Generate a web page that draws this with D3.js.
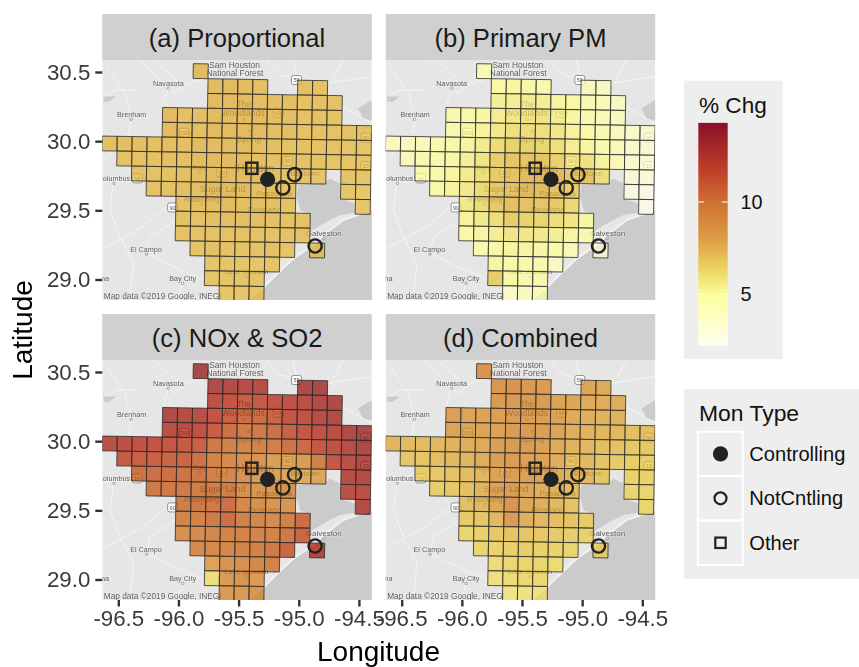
<!DOCTYPE html>
<html><head><meta charset="utf-8">
<script src="https://cdn.jsdelivr.net/npm/d3@7"></script>
<style>html,body{margin:0;padding:0;background:#fff}svg{display:block;font-family:"Liberation Sans",Arial,sans-serif;filter:blur(.3px)}</style>
</head><body><svg id="c" width="859" height="667"></svg>
<script>
const panelTitles=["(a) Proportional","(b) Primary PM","(c) NOx & SO2","(d) Combined"];
const lonTicks=[-96.5,-96,-95.5,-95,-94.5];
const latTicks=[30.5,30,29.5,29];
const legendTicks=[5,10];
const monTypes=["Controlling","NotCntling","Other"];
// [grid row, first grid column, number of cells]
const gridRuns=[[0,6,1],[1,7,4],[1,13,2],[2,7,9],[3,4,12],[4,4,14],[5,0,18],[6,1,17],[7,2,13],[7,16,2],[8,3,10],[8,16,2],[9,5,8],[9,17,1],[10,5,9],[11,5,9],[12,6,7],[12,14,1],[13,7,5],[14,7,4],[15,8,3]];
// one list per run above
const valuesA=[[7.2],[7.2,7.2,7.2,7.1],[7.1,7.0],[7.2,7.2,7.2,7.1,7.1,7.1,7.0,7.0,7.0],[7.2,7.1,7.1,7.2,7.2,7.2,7.2,7.1,7.1,7.0,7.0,7.0],[7.2,7.1,7.1,7.2,7.2,7.2,7.2,7.1,7.1,7.0,7.0,7.0,7.0,7.0],[7.1,7.1,7.1,7.1,7.1,7.1,7.2,7.2,7.2,7.2,7.1,7.1,7.0,7.0,7.0,7.0,6.9,6.9],[7.0,7.0,7.0,7.1,7.1,7.2,7.2,7.2,7.2,7.1,7.0,7.0,7.0,7.0,6.9,6.9,6.9],[7.0,7.0,7.0,7.1,7.1,7.2,7.2,7.2,7.2,7.1,7.0,7.0,6.9],[6.9,6.9],[7.0,7.0,7.1,7.1,7.2,7.2,7.2,7.1,7.1,7.0],[6.8,6.8],[7.0,7.1,7.1,7.2,7.1,7.1,7.1,7.0],[6.8],[7.0,7.0,7.1,7.1,7.1,7.1,7.0,7.0,7.0],[7.0,7.0,7.0,7.0,7.0,7.0,7.0,7.0,7.0],[6.9,7.0,7.0,7.0,7.0,7.0,6.9],[6.9],[6.9,6.9,6.9,6.9,6.9],[6.9,6.9,6.9,6.9],[6.9,6.9,6.9]];
const valuesB=[[4.3],[4.8,5.0,4.8,4.6],[4.0,3.8],[5.2,5.3,5.4,5.3,5.0,4.7,4.4,4.1,3.8],[4.6,4.7,4.9,5.3,5.6,5.8,5.7,5.4,5.0,4.6,4.2,3.9],[4.7,4.9,5.1,5.5,5.9,6.0,5.9,5.6,5.1,4.8,4.4,4.1,3.6,3.3],[3.9,4.0,4.2,4.4,4.7,5.0,5.4,6.1,6.4,6.5,6.3,5.9,5.3,5.0,4.6,4.1,3.5,3.2],[4.1,4.4,4.6,4.9,5.2,5.7,6.6,6.9,6.9,6.9,6.5,5.7,5.8,5.1,4.2,3.4,3.1],[4.5,4.7,5.0,5.4,5.9,6.7,7.0,7.2,7.4,7.2,6.9,7.0,6.0],[3.0,2.9],[4.8,5.1,5.5,6.1,6.8,7.1,7.3,7.2,7.0,6.6],[2.7,2.6],[5.5,6.1,6.8,7.1,7.0,6.9,6.7,6.2],[2.5],[5.1,5.5,6.0,6.6,6.4,6.3,6.0,5.7,5.0],[4.7,5.0,5.3,5.6,5.6,5.5,5.3,5.0,4.5],[4.6,4.8,5.0,5.0,4.9,4.7,4.2],[3.0],[5.0,4.7,4.7,4.5,3.7],[6.6,4.9,4.6,4.7],[3.5,3.8,4.3]];
const valuesC=[[13.3],[12.8,12.6,12.4,12.4],[13.0,13.2],[12.0,11.6,11.2,11.3,11.6,11.9,12.2,12.6,13.0],[12.8,12.5,12.3,11.6,11.0,10.6,10.6,10.9,11.5,11.9,12.4,12.8],[12.2,12.2,11.8,11.2,10.4,9.9,10.0,10.4,11.0,11.4,11.8,12.2,12.9,13.2],[12.3,12.0,11.8,11.6,11.5,11.3,11.0,10.0,9.7,9.4,9.5,9.8,10.3,10.7,11.4,11.8,12.4,12.9],[11.3,11.1,11.1,10.9,10.8,10.3,9.6,9.2,8.9,8.7,8.2,8.0,8.3,9.8,11.4,12.2,12.8],[10.3,10.4,10.4,10.3,10.2,9.8,9.3,8.9,8.4,8.2,7.9,7.7,7.9],[12.4,12.6],[10.2,10.1,10.0,9.9,9.9,9.9,9.0,8.7,8.6,8.9],[12.0,12.3],[9.9,10.0,10.1,10.5,9.3,8.9,8.7,8.7],[12.6],[9.5,9.7,10.0,10.6,9.8,9.4,9.2,9.7,10.6],[9.0,9.2,9.4,9.6,9.6,9.5,9.6,10.1,10.8],[9.2,9.3,9.4,9.5,9.7,10.0,10.8],[12.0],[8.0,8.8,9.0,9.3,9.7],[6.0,8.4,8.7,8.3],[8.4,8.5,8.6]];
const valuesD=[[8.7],[8.6,8.8,8.5,8.3],[7.9,7.8],[8.4,8.5,8.4,8.3,8.0,7.9,7.8,7.7,7.7],[8.2,8.0,8.0,8.2,8.3,8.3,8.2,8.0,7.8,7.6,7.5,7.5],[8.0,7.9,8.0,8.1,8.3,8.3,8.2,8.0,7.7,7.5,7.4,7.3,7.1,7.1],[7.4,7.2,7.2,7.3,7.5,7.7,7.8,8.2,8.3,8.3,8.1,7.8,7.5,7.3,7.1,7.0,6.8,6.8],[6.8,6.9,7.1,7.3,7.4,7.7,8.2,8.3,8.1,8.0,7.6,7.1,7.3,7.0,6.7,6.6,6.6],[6.6,6.8,7.0,7.2,7.4,8.0,8.2,8.2,8.0,7.8,7.5,7.3,6.9],[6.5,6.5],[6.6,6.8,7.1,7.4,8.1,8.3,7.9,7.7,7.5,7.2],[6.3,6.3],[7.1,7.3,7.9,8.7,7.9,7.6,7.3,7.0],[6.3],[6.7,6.9,7.3,8.4,7.6,7.3,7.1,6.9,6.7],[6.3,6.5,6.8,6.9,6.9,6.8,6.7,6.6,6.5],[6.3,6.4,6.5,6.6,6.5,6.4,6.3],[6.4],[6.1,6.2,6.3,6.3,6.1],[5.9,6.1,6.2,6.2],[5.7,5.8,5.9]];
const panelValues=[valuesA,valuesB,valuesC,valuesD];
// monitors [lon, lat, type]
const monitors=[[-95.259,29.724,0],[-95.132,29.662,1],[-95.035,29.758,1],[-94.864,29.242,1],[-95.39,29.804,2]];
// colour ramp
const rampVals=[2.2,4.85,6.3,8.1,9.9,11.7,14.3];
const rampCols=["#fffff0","#ffff8c","#ebcf3c","#d78419","#c75205","#b51300","#73000a"];
const legendCols=["#fffff0","#fcffa0","#ecd660","#dc9a44","#cf7234","#c13f28","#8a1028"];
// basemap in lon/lat
const waterAreas=[
[[-94.3,29.51],[-94.396,29.502],[-94.631,29.43],[-94.783,29.329],[-94.88,29.249],[-95.032,29.16],[-95.171,29.049],[-95.295,28.943],[-95.434,28.846],[-94.3,28.846]],
[[-95.005,29.683],[-94.783,29.7],[-94.742,29.731],[-94.659,29.695],[-94.659,29.586],[-94.534,29.55],[-94.534,29.483],[-94.659,29.466],[-94.769,29.418],[-94.908,29.345],[-94.913,29.478],[-94.985,29.497],[-95.019,29.598]],
[[-94.396,30.297],[-94.506,30.237],[-94.465,30.165],[-94.368,30.141]],
[[-96.624,30.322],[-96.519,30.322],[-96.574,30.285],[-96.619,30.285]]];
const shoreStrip=[[-94.396,29.502],[-94.631,29.43],[-94.783,29.329],[-94.88,29.249],[-95.032,29.16],[-95.171,29.049],[-95.295,28.943],[-95.434,28.846]];
const roads=[
[[-96.652,29.707],[-96.389,29.707],[-96.264,29.731]],
[[-96.32,30.587],[-96.154,30.442],[-96.084,30.382],[-96.029,30.346],[-95.932,30.418],[-95.766,30.454]],
[[-96.597,30.538],[-96.444,30.346],[-96.389,30.153],[-96.417,30.044]],
[[-96.209,30.587],[-95.988,30.418]],
[[-96.084,30.382],[-96.126,30.261]],
[[-96.652,29.84],[-96.514,29.96]],
[[-96.541,29.695],[-96.569,29.502],[-96.486,29.309],[-96.375,29.116],[-96.403,28.851]],
[[-96.098,29.526],[-96.292,29.382],[-96.652,29.213]],
[[-96.264,29.189],[-96.237,29.309],[-96.015,29.43]],
[[-95.96,28.972],[-96.015,28.851]],
[[-96.264,29.189],[-96.098,29.116],[-95.78,28.996]],
[[-95.046,30.587],[-95.019,30.454]],
[[-94.769,30.418],[-94.396,30.466]],
[[-94.631,30.249],[-94.396,30.129]],
[[-94.631,30.587],[-94.714,30.454]],
[[-95.268,30.587],[-95.157,30.478],[-95.019,30.454]],
[[-96.652,30.297],[-96.514,30.37],[-96.32,30.37]]];
const placeLabels=[["Sam Houston",-95.534,30.551,8.4],["National Forest",-95.531,30.49,8.4],["Navasota",-96.084,30.418,7.3],["Brenham",-96.389,30.196,7.2],["Columbus",-96.403,29.731,7.2,"end"],["El Campo",-96.27,29.22,7.2],["Bay City",-95.965,29.008,7.2],["The",-95.456,30.266,8.4],["Woodlands",-95.462,30.201,8.7],["Spring",-95.414,30.015,8.4],["Katy",-95.821,29.811,7.2],["Houston",-95.359,29.806,10],["Sugar Land",-95.633,29.652,8.8],["Rosenberg",-95.808,29.582,7.2],["Pasadena",-95.204,29.627,8],["Baytown",-94.949,29.767,7.5],["Pearland",-95.282,29.502,8.4],["Galveston",-94.792,29.336,8],["Lake Jackson",-95.434,29.059,7.2],["Edna",-96.577,29.006,7.2,"end"]];
const placeDots=[[-96.084,30.382],[-96.394,30.158],[-96.536,29.695],[-96.264,29.184],[-95.965,28.972],[-95.456,30.158],[-95.414,30.073],[-95.821,29.774],[-95.808,29.545],[-95.282,29.55],[-94.792,29.297],[-95.434,29.02]];
const shields=[["290",-95.952,30.061],["90",-96.048,29.521],["59",-95.019,30.442],["90",-95.093,29.856],["69",-95.171,30.206],["10",-94.443,29.82],["90",-94.443,30.025],["10",-96.342,29.731],["10",-95.641,29.774]];

const svg=d3.select("#c");
const panelW=269.5,panelH=240;
const panelX=[102.3,385.7,102.3,385.7],panelY=[60,60,360,360];
const lon=d3.scaleLinear().domain([-96.5,-94.5]).range([16,256.6]);
const lat=d3.scaleLinear().domain([30.5,29]).range([12,219.5]);
const color=d3.scaleLinear().domain(rampVals).range(rampCols).clamp(true);
// tilted model grid (projected cells shown in lon/lat)
const gLon=d3.scaleLinear().domain([0,1]).range([-96.633,-96.633+0.1243]);
const gLat=d3.scaleLinear().domain([5,6]).range([30.037,30.037-0.1068]);
const cornerLon=(c,r)=>gLon(c)-(r-5)*0.0022;
const cornerLat=(c,r)=>gLat(r)-c*0.0018;
const cellPath=(c,r)=>{
  const p=[[c,r],[c+1,r],[c+1,r+1],[c,r+1]].map(([i,j])=>[lon(cornerLon(i,j)),lat(cornerLat(i,j))]);
  return d3.line()(p)+"Z";
};
const cells=(vals)=>gridRuns.flatMap((run,k)=>vals[k].map((v,i)=>({r:run[0],c:run[1]+i,v})));
const geoLine=d3.line().x(d=>lon(d[0])).y(d=>lat(d[1]));
const INK="#222";
const tickFmt=d=>d.toFixed(1);

const defs=svg.append("defs");
defs.append("clipPath").attr("id","pc").append("rect").attr("width",panelW).attr("height",panelH);

panelTitles.forEach((title,pi)=>{
  const g=svg.append("g").attr("transform",`translate(${panelX[pi]},${panelY[pi]})`);
  g.append("rect").attr("y",-46).attr("width",panelW).attr("height",46).attr("fill","#d0d0d0");
  g.append("text").attr("x",panelW/2).attr("y",-13).attr("text-anchor","middle").attr("font-size",25.6).attr("fill","#1a1a1a").text(title);
  const m=g.append("g").attr("clip-path","url(#pc)");
  m.append("rect").attr("width",panelW).attr("height",panelH).attr("fill","#e6e6e6");
  m.selectAll(".road").data(roads).join("path").attr("d",geoLine).attr("fill","none").attr("stroke","#f4f4f4").attr("stroke-width",1);
  m.selectAll(".water").data(waterAreas).join("path").attr("d",d=>geoLine(d)+"Z").attr("fill","#cbcbcb");
  m.append("path").attr("d",geoLine(shoreStrip)).attr("fill","none").attr("stroke","#f2f2f2").attr("stroke-width",2);
  m.selectAll(".dot").data(placeDots).join("circle").attr("cx",d=>lon(d[0])).attr("cy",d=>lat(d[1])).attr("r",1.2).attr("fill","#fff").attr("stroke","#666").attr("stroke-width",.6);
  const sh=m.selectAll(".sh").data(shields).join("g").attr("transform",d=>`translate(${lon(d[1])},${lat(d[2])})`);
  sh.append("rect").attr("x",-5).attr("y",-4.5).attr("width",10).attr("height",9).attr("rx",2).attr("fill","#fff").attr("stroke","#777").attr("stroke-width",.8);
  sh.append("text").attr("y",2.2).attr("text-anchor","middle").attr("font-size",5.5).attr("fill","#555").text(d=>d[0]);
  m.selectAll(".pl").data(placeLabels).join("text").attr("x",d=>lon(d[1])).attr("y",d=>lat(d[2])+d[3]*0.36)
    .attr("text-anchor",d=>d[4]||"middle").attr("font-size",d=>d[3]).attr("fill","#5c5c5c")
    .attr("stroke","#f2f2f2").attr("stroke-width",1.2).attr("paint-order","stroke").attr("stroke-opacity",.6).text(d=>d[0]);
  m.append("text").attr("x",1.5).attr("y",238.5).attr("font-size",8.3).attr("fill","#5c5c5c").attr("stroke","#f2f2f2").attr("stroke-width",1.2).attr("paint-order","stroke").attr("stroke-opacity",.6).text("Map data ©2019 Google, INEGI");
  m.selectAll(".cell").data(cells(panelValues[pi])).join("path").attr("d",d=>cellPath(d.c,d.r))
    .attr("fill",d=>color(d.v)).attr("fill-opacity",.7).attr("stroke","#2a2a2a").attr("stroke-opacity",.8).attr("stroke-width",1);
  // monitors
  const mon=m.selectAll(".mon").data(monitors).join("g").attr("transform",d=>`translate(${lon(d[0])},${lat(d[1])})`);
  mon.filter(d=>d[2]===0).append("circle").attr("r",7.6).attr("fill",INK);
  mon.filter(d=>d[2]===1).append("circle").attr("r",6.6).attr("fill","none").attr("stroke",INK).attr("stroke-width",2.4);
  mon.filter(d=>d[2]===2).append("rect").attr("x",-5.6).attr("y",-5.6).attr("width",11.2).attr("height",11.2).attr("fill","none").attr("stroke",INK).attr("stroke-width",2.4);
  // axes
  if(pi===0||pi===2){
    const ax=g.append("g").call(d3.axisLeft(lat).tickValues(latTicks).tickFormat(tickFmt).tickSize(7).tickPadding(5));
    ax.select(".domain").remove();
    ax.selectAll("line").attr("stroke","#333").attr("stroke-width",2.4);
    ax.selectAll("text").attr("font-size",22.3).attr("font-family","inherit").attr("fill","#3a3a3a");
  }
  if(pi>=2){
    const ax=g.append("g").attr("transform",`translate(0,${panelH})`).call(d3.axisBottom(lon).tickValues(lonTicks).tickFormat(tickFmt).tickSize(6.5).tickPadding(4));
    ax.select(".domain").remove();
    ax.selectAll("line").attr("stroke","#333").attr("stroke-width",2.4);
    ax.selectAll("text").attr("font-size",22.3).attr("font-family","inherit").attr("fill","#3a3a3a");
  }
});
svg.append("text").attr("x",378.5).attr("y",661).attr("text-anchor","middle").attr("font-size",28).attr("fill","#000").text("Longitude");
svg.append("text").attr("transform","translate(32,330) rotate(-90)").attr("text-anchor","middle").attr("font-size",28).attr("fill","#000").text("Latitude");

// colour legend
svg.append("rect").attr("x",684).attr("y",80.7).attr("width",98.7).attr("height",278.3).attr("fill","#eeeeee");
svg.append("text").attr("x",699).attr("y",112.7).attr("font-size",22.6).attr("fill","#111").text("% Chg");
const legendY=d3.scaleLinear().domain([5,10]).range([294,202]);
const grad=defs.append("linearGradient").attr("id","lg").attr("x1",0).attr("x2",0).attr("y1",1).attr("y2",0);
const vmin=rampVals[0],vmax=rampVals[rampVals.length-1];
rampVals.forEach((v,i)=>grad.append("stop").attr("offset",(v-vmin)/(vmax-vmin)).attr("stop-color",legendCols[i]));
svg.append("rect").attr("x",698.3).attr("y",legendY(vmax)).attr("width",29.4).attr("height",legendY(vmin)-legendY(vmax)).attr("fill","url(#lg)");
legendTicks.forEach(t=>{
  [[698.3,704.3],[721.7,727.7]].forEach(([a,b])=>svg.append("line").attr("x1",a).attr("x2",b).attr("y1",legendY(t)).attr("y2",legendY(t)).attr("stroke","#fff").attr("stroke-width",1));
  svg.append("text").attr("x",740.5).attr("y",legendY(t)+7).attr("font-size",19.8).attr("fill","#111").text(t);
});
// monitor legend
svg.append("rect").attr("x",684).attr("y",389).attr("width",175).attr("height",190).attr("fill","#eeeeee");
svg.append("text").attr("x",699).attr("y",420.7).attr("font-size",22.9).attr("fill","#111").text("Mon Type");
const keyY=d3.scaleBand().domain(monTypes).range([431.7,565]);
monTypes.forEach((t,i)=>{
  const y=keyY(t),h=keyY.bandwidth(),cy=y+h/2;
  svg.append("rect").attr("x",698).attr("y",y).attr("width",44.6).attr("height",h).attr("fill","#eeeeee").attr("stroke","#fff").attr("stroke-width",2);
  if(i===0)svg.append("circle").attr("cx",720.5).attr("cy",cy).attr("r",7.6).attr("fill",INK);
  if(i===1)svg.append("circle").attr("cx",720.5).attr("cy",cy).attr("r",6).attr("fill","none").attr("stroke",INK).attr("stroke-width",2.2);
  if(i===2)svg.append("rect").attr("x",715.3).attr("y",cy-5.2).attr("width",10.4).attr("height",10.4).attr("fill","none").attr("stroke",INK).attr("stroke-width",2.2);
  svg.append("text").attr("x",749.3).attr("y",cy+7).attr("font-size",20.1).attr("fill","#111").text(t);
});
</script></body></html>
